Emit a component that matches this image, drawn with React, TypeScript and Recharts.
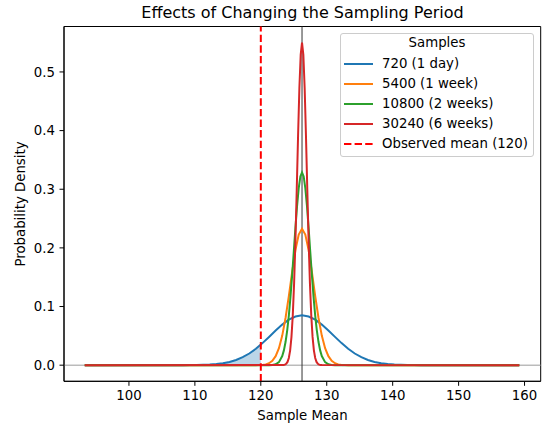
import React from 'react';
import { ComposedChart, Line, Area, XAxis, YAxis, ReferenceLine, ReferenceArea, Legend } from 'recharts';

const W = 547;
const H = 433;
const FONT = '"DejaVu Sans", "Liberation Sans", sans-serif';

const MEAN = 126.25;
const OBSERVED = 120;

const xTicks = [100, 110, 120, 130, 140, 150, 160];
const yTicks = [0, 0.1, 0.2, 0.3, 0.4, 0.5];

const blueX = [93.3, 108.25, 109.25, 110.25, 111.25, 112.25, 113.25, 114.25, 115.25, 116.25, 117.25, 118.25, 119.25, 120, 120.25, 121.25, 122.25, 123.25, 124.25, 125.25, 126.25, 127.25, 128.25, 129.25, 130.25, 131.25, 132.25, 133.25, 134.25, 135.25, 136.25, 137.25, 138.25, 139.25, 140.25, 141.25, 142.25, 143.25, 144.25, 159.2];
const blueY = [0, 0.00005, 0.00012, 0.00026, 0.00052, 0.001, 0.00185, 0.00326, 0.00549, 0.00883, 0.01357, 0.0199, 0.028, 0.0351, 0.0376, 0.0482, 0.0591, 0.0692, 0.0775, 0.083, 0.0849, 0.083, 0.0775, 0.0692, 0.0591, 0.0482, 0.0376, 0.028, 0.0199, 0.01357, 0.00883, 0.00549, 0.00326, 0.00185, 0.001, 0.00052, 0.00026, 0.00012, 0.00005, 0];

const shadeX = [93.3, 108.25, 109.25, 110.25, 111.25, 112.25, 113.25, 114.25, 115.25, 116.25, 117.25, 118.25, 119.25, 120];
const shadeY = [0, 0.00005, 0.00012, 0.00026, 0.00052, 0.001, 0.00185, 0.00326, 0.00549, 0.00883, 0.01357, 0.0199, 0.028, 0.0351];

const orangeX = [93.3, 119.25, 119.75, 120.25, 120.75, 121.25, 121.75, 122.25, 122.75, 123.25, 123.75, 124.25, 124.75, 125.25, 125.75, 126.25, 126.75, 127.25, 127.75, 128.25, 128.75, 129.25, 129.75, 130.25, 130.75, 131.25, 131.75, 132.25, 132.75, 133.25, 159.2];
const orangeY = [0, 0.00006, 0.00018, 0.00051, 0.00137, 0.00333, 0.00747, 0.01536, 0.029, 0.0504, 0.0804, 0.1179, 0.1587, 0.1962, 0.2228, 0.2325, 0.2228, 0.1962, 0.1587, 0.1179, 0.0804, 0.0504, 0.029, 0.01536, 0.00747, 0.00333, 0.00137, 0.00051, 0.00018, 0.00006, 0];

const greenX = [93.3, 121.25, 121.75, 122.25, 122.75, 123.25, 123.5, 123.75, 124, 124.25, 124.5, 124.75, 125, 125.25, 125.5, 125.75, 126, 126.25, 126.5, 126.75, 127, 127.25, 127.5, 127.75, 128, 128.25, 128.5, 128.75, 129, 129.25, 129.75, 130.25, 130.75, 131.25, 159.2];
const greenY = [0, 0.00007, 0.00034, 0.00144, 0.00514, 0.01548, 0.0252, 0.0394, 0.059, 0.0845, 0.1162, 0.1532, 0.1934, 0.2341, 0.2716, 0.302, 0.3219, 0.3288, 0.3219, 0.302, 0.2716, 0.2341, 0.1934, 0.1532, 0.1162, 0.0845, 0.059, 0.0394, 0.0252, 0.01548, 0.00514, 0.00144, 0.00034, 0.00007, 0];

const redX = [93.3, 123.25, 123.45, 123.65, 123.85, 124.05, 124.25, 124.45, 124.65, 124.85, 125.05, 125.25, 125.45, 125.65, 125.85, 126.05, 126.25, 126.45, 126.65, 126.85, 127.05, 127.25, 127.45, 127.65, 127.85, 128.05, 128.25, 128.45, 128.65, 128.85, 129.05, 129.25, 159.2];
const redY = [0, 0.00011, 0.00032, 0.00089, 0.0023, 0.00552, 0.01227, 0.0253, 0.0482, 0.0853, 0.1399, 0.2126, 0.2994, 0.3907, 0.4725, 0.5296, 0.5501, 0.5296, 0.4725, 0.3907, 0.2994, 0.2126, 0.1399, 0.0853, 0.0482, 0.0253, 0.01227, 0.00552, 0.0023, 0.00089, 0.00032, 0.00011, 0];

const seriesNames = ['720 (1 day)', '5400 (1 week)', '10800 (2 weeks)', '30240 (6 weeks)'];
const seriesColors = ['#1f77b4', '#ff7f0e', '#2ca02c', '#d62728'];
const observedLabel = 'Observed mean (120)';
const legendTitle = 'Samples';
const titleText = 'Effects of Changing the Sampling Period';
const xLabel = 'Sample Mean';
const yLabel = 'Probability Density';

const toPts = (xs: number[], ys: number[]) => xs.map((x, i) => ({ x, y: ys[i] }));

const blueData = toPts(blueX, blueY);
const shadeData = toPts(shadeX, shadeY);
const orangeData = toPts(orangeX, orangeY);
const greenData = toPts(greenX, greenY);
const redData = toPts(redX, redY);
const seriesData = [blueData, orangeData, greenData, redData];

const X_DOMAIN: [number, number] = [90.15, 162.45];
const Y_DOMAIN: [number, number] = [-0.0275, 0.5775];

const FS = 13.3;

const LegendBox = () => {
  const rows = [
    ...seriesNames.map((n, i) => ({ name: n, color: seriesColors[i], dash: false })),
    { name: observedLabel, color: '#ff0000', dash: true },
  ];
  return (
    <div
      style={{
        position: 'relative',
        width: 194,
        height: 124,
        boxSizing: 'border-box',
        border: '1px solid #cccccc',
        borderRadius: 3,
        background: 'rgba(255,255,255,0.8)',
        fontFamily: FONT,
        fontSize: FS,
        color: '#000',
      }}
    >
      <div style={{ position: 'absolute', left: 0, width: 192, top: 10.3 - 8 - 1, lineHeight: '16px', textAlign: 'center', whiteSpace: 'nowrap' }}>
        {legendTitle}
      </div>
      {rows.map((r, i) => {
        const cy = 31.3 + 20 * i - 1;
        return (
          <React.Fragment key={r.name}>
            <svg style={{ position: 'absolute', left: 2.3, top: cy - 3 }} width={30} height={6}>
              <line x1={1} x2={30} y1={3} y2={3} stroke={r.color} strokeWidth={2} strokeDasharray={r.dash ? '7.4 3.2' : undefined} />
            </svg>
            <div style={{ position: 'absolute', left: 41, top: cy - 8, lineHeight: '16px', whiteSpace: 'nowrap' }}>{r.name}</div>
          </React.Fragment>
        );
      })}
    </div>
  );
};

export default function App() {
  return (
    <div style={{ position: 'absolute', left: 0, top: 0, width: W, height: H, background: '#fff' }}>
      <ComposedChart width={W} height={H} margin={{ top: 26.5, right: 6.3, bottom: 0, left: 0 }}>
        <XAxis
          dataKey="x"
          type="number"
          domain={X_DOMAIN}
          allowDataOverflow
          ticks={xTicks}
          height={51.7}
          tickSize={4.5}
          tickMargin={4.5}
          stroke="#000"
          tick={{ fill: '#000', fontSize: FS, fontFamily: FONT }}
          axisLine={{ stroke: '#000', strokeWidth: 1 }}
          tickLine={{ stroke: '#000', strokeWidth: 1 }}
        />
        <YAxis
          type="number"
          domain={Y_DOMAIN}
          allowDataOverflow
          ticks={yTicks}
          width={64}
          tickSize={4.5}
          tickMargin={4.5}
          tickFormatter={(v: number) => v.toFixed(1)}
          tick={{ fill: '#000', fontSize: FS, fontFamily: FONT }}
          axisLine={{ stroke: '#000', strokeWidth: 1 }}
          tickLine={{ stroke: '#000', strokeWidth: 1 }}
        />
        <ReferenceArea
          x1={X_DOMAIN[0]}
          x2={X_DOMAIN[1]}
          y1={Y_DOMAIN[0]}
          y2={Y_DOMAIN[1]}
          fill="none"
          fillOpacity={0}
          stroke="#000"
          strokeWidth={1}
          ifOverflow="visible"
        />
        <ReferenceLine y={0} stroke="#9a9a9a" strokeWidth={1} />
        <ReferenceLine x={MEAN} stroke="#333" strokeWidth={1} />
        <Area
          data={shadeData}
          dataKey="y"
          type="linear"
          baseValue={0}
          stroke="none"
          fill="#1f77b4"
          fillOpacity={0.3}
          isAnimationActive={false}
          dot={false}
          activeDot={false}
        />
        {seriesData.map((d, i) => (
          <Line
            key={seriesNames[i]}
            data={d}
            dataKey="y"
            name={seriesNames[i]}
            type="linear"
            stroke={seriesColors[i]}
            strokeWidth={2}
            dot={false}
            activeDot={false}
            isAnimationActive={false}
          />
        ))}
        <ReferenceLine x={OBSERVED} stroke="#ff0000" strokeWidth={2} strokeDasharray="7.4 3.2" />
        <Legend
          layout="horizontal"
          verticalAlign="middle"
          align="center"
          wrapperStyle={{ left: 340, top: 33, width: 194, height: 124 }}
          content={() => <LegendBox />}
        />
      </ComposedChart>
      <svg width={W} height={H} style={{ position: 'absolute', left: 0, top: 0, pointerEvents: 'none' }}>
        <text x={302.5} y={18} textAnchor="middle" fontFamily={FONT} fontSize={16} fill="#000">
          {titleText}
        </text>
        <text x={302.5} y={419.5} textAnchor="middle" fontFamily={FONT} fontSize={FS} fill="#000">
          {xLabel}
        </text>
        <text transform="translate(24.5,204) rotate(-90)" textAnchor="middle" fontFamily={FONT} fontSize={FS} fill="#000">
          {yLabel}
        </text>
      </svg>
    </div>
  );
}
